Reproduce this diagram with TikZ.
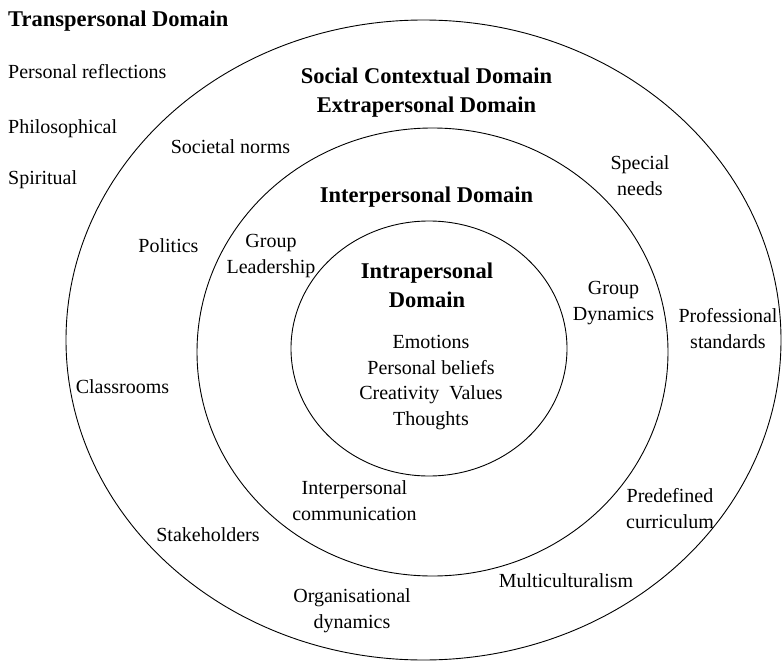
\documentclass[tikz,border=0pt]{standalone}
\usepackage{fontspec}
\setmainfont{Liberation Serif}
\begin{document}
\begin{tikzpicture}[x=1pt,y=-1pt,
	ring/.style={line width=0.9pt},
	item/.style={inner sep=0pt, align=center, anchor=base, font=\fontsize{20}{25.5}\selectfont},
	domainlabel/.style={inner sep=0pt, align=center, anchor=base, font=\fontsize{22.5}{29}\selectfont\bfseries}]
	\useasboundingbox (0,0) rectangle (782,661);
	\coordinate (co) at (423.5,340);
	\coordinate (cm) at (432.5,352);
	\coordinate (ci) at (429,348.5);
	\draw[ring] (co) ellipse [x radius=357.5pt, y radius=320pt];
	\draw[ring] (cm) ellipse [x radius=235.5pt, y radius=224pt];
	\draw[ring] (ci) ellipse [x radius=138pt, y radius=127.5pt];
	
	\node[domainlabel, anchor=base west] (trans) at (8,27) {Transpersonal Domain};
	\node[item, anchor=base west] (reflect) at (8,79) {Personal reflections};
	\node[item, anchor=base west] (philo) at (8,133) {Philosophical};
	\node[item, anchor=base west] (spirit) at (8,184) {Spiritual};
	
	\node[domainlabel] (social) at (426.5,113) {Social Contextual Domain\\Extrapersonal Domain};
	\node[item] (norms) at (230.5,153) {Societal norms};
	\node[item] (politics) at (168.5,252) {Politics};
	\node[item] (special) at (640,195) {Special\\needs};
	\node[item] (profstd) at (728,348) {Professional\\standards};
	\node[item] (classrooms) at (122.5,393) {Classrooms};
	\node[item] (stakeholders) at (208,541) {Stakeholders};
	\node[item] (orgdyn) at (352,628) {Organisational\\dynamics};
	\node[item] (curric) at (670,528) {Predefined\\curriculum};
	\node[item] (multi) at (566,587) {Multiculturalism};
	
	\node[domainlabel] (inter) at (426.5,202) {Interpersonal Domain};
	\node[item] (leader) at (271,273) {Group\\Leadership};
	\node[item] (dynamics) at (613.5,320) {Group\\Dynamics};
	\node[item] (comm) at (354.5,520) {Interpersonal\\communication};
	
	\node[domainlabel] (intra) at (427,307) {Intrapersonal\\Domain};
	\node[item] (emotions) at (431,425) {Emotions\\Personal beliefs\\Creativity~~Values\\Thoughts};
\end{tikzpicture}
\end{document}
